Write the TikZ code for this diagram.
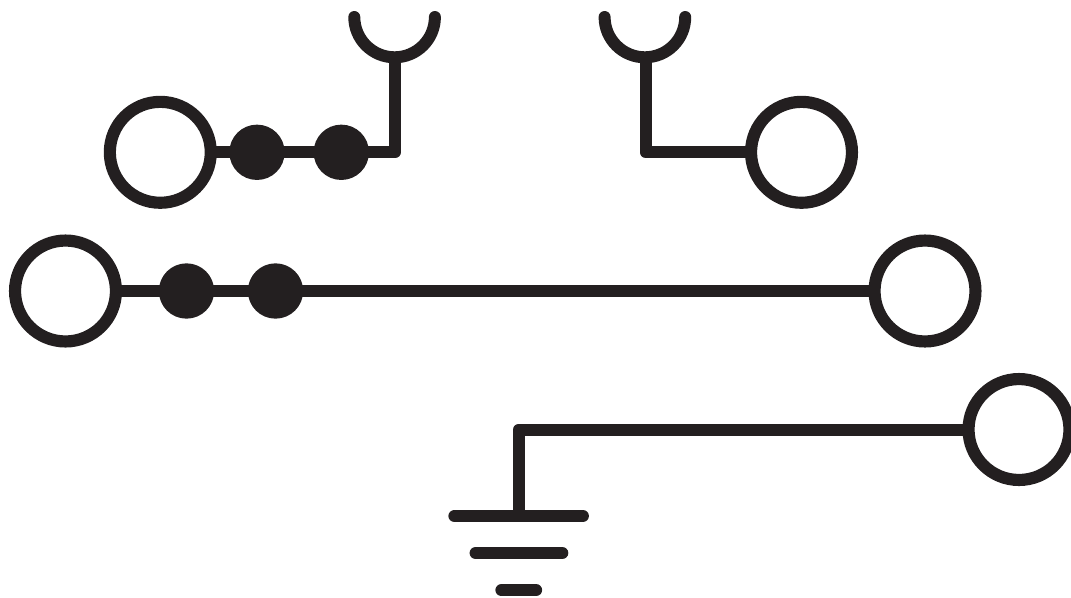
\documentclass[tikz,border=0pt]{standalone}
\usetikzlibrary{backgrounds}
\definecolor{ink}{HTML}{231F20}
\tikzset{
  ring/.style={circle,draw=ink,line width=9.1pt,fill=none,inner sep=0pt,outer sep=0pt,minimum size=75.7pt},
  dotnode/.style={circle,fill=ink,inner sep=0pt,outer sep=0pt,minimum size=41.5pt},
  wire/.style={draw=ink,line width=9pt,line join=round},
  cupline/.style={draw=ink,line width=9pt,line cap=round},
  groundbar/.style={draw=ink,line width=9.2pt,line cap=round}
}
\begin{document}
\begin{tikzpicture}[x=0.75pt,y=-0.75pt]
\useasboundingbox (0,0) rectangle (1071,597);
\node[ring] (r1) at (160.3,152.3) {};
\node[ring] (r2) at (801.5,152.3) {};
\node[ring] (r3) at (65.5,291) {};
\node[ring] (r4) at (925,291) {};
\node[ring] (r5) at (1019,429.5) {};
\node[dotnode] (d1) at (257,152.3) {};
\node[dotnode] (d2) at (341.3,152.3) {};
\node[dotnode] (d3) at (186.5,291) {};
\node[dotnode] (d4) at (275.5,291) {};
\coordinate (c1) at (395,152.3);
\coordinate (s1) at (395,57);
\coordinate (c2) at (645.5,152.3);
\coordinate (s2) at (645.5,57);
\coordinate (c3) at (518.7,429.5);
\coordinate (g1) at (518.7,516);
\coordinate (g1l) at (454.5,516);
\coordinate (g1r) at (582.8,516);
\coordinate (g2l) at (475.7,553);
\coordinate (g2r) at (562.2,553);
\coordinate (g3l) at (501.5,590.2);
\coordinate (g3r) at (536,590.2);
\begin{scope}[on background layer]
\draw[wire] (r1) -- (d1.center) -- (d2.center) -- (c1) -- (s1);
\draw[wire] (r2) -- (c2) -- (s2);
\draw[wire] (r3) -- (d3.center) -- (d4.center) -- (r4);
\draw[wire] (r5) -- (c3) -- (g1);
\end{scope}
\draw[cupline] (354.3,17) arc[start angle=180,end angle=0,radius=40.3];
\draw[cupline] (604.6,17) arc[start angle=180,end angle=0,radius=40.3];
\draw[groundbar] (g1l) -- (g1r);
\draw[groundbar] (g2l) -- (g2r);
\draw[groundbar] (g3l) -- (g3r);
\end{tikzpicture}
\end{document}
